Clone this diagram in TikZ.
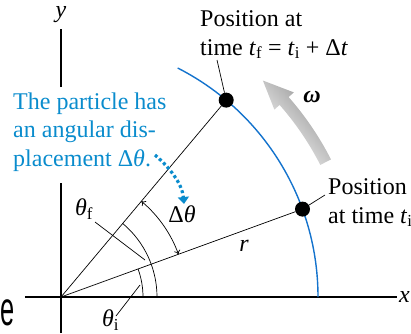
\documentclass[tikz,border=0pt]{standalone}
\usepackage{graphicx}
\usepackage{fontspec}
\setmainfont{Liberation Serif}
\newfontfamily\sanse{Liberation Sans}
\usetikzlibrary{arrows.meta}
\definecolor{txtblue}{RGB}{10,140,205}
\definecolor{arcblue}{RGB}{20,115,205}
\begin{document}
\begin{tikzpicture}[x=1pt,y=1pt,
  lbl/.style={font=\fontsize{24}{28.5}\selectfont, inner sep=0pt},
  axisline/.style={line width=1.2pt},
  thinline/.style={line width=0.7pt},
  dot/.style={circle, fill=black, minimum size=15pt, inner sep=0pt},
  dblarrow/.style={{To[length=4pt,width=6.5pt]}-{To[length=4pt,width=6.5pt]}}
]
\useasboundingbox (-61,-36) rectangle (350,297);
\coordinate (O) at (0,0);
% axes
\coordinate (xl) at (-36,0); \coordinate (xr) at (336,0);
\coordinate (yb) at (0,-36); \coordinate (yt) at (0,268);
\coordinate (yg1) at (0,114); \coordinate (yg2) at (0,210);
\draw[axisline] (xl) -- (xr);
\draw[axisline] (yb) -- (yg1);
\draw[axisline] (yg2) -- (yt);
\node[lbl, anchor=west] (xlab) at (338,0) {\textit{x}};
\node[lbl] (ylab) at (0,282) {\textit{y}};
% omega arrow
\shade[left color=black!45, right color=white, shading angle=-50]
  (27:291) arc[start angle=27,end angle=41.3,radius=291] -- (41.3:284) -- (47:296)
  -- (41.3:310) -- (41.3:303) arc[start angle=41.3,end angle=27,radius=303] -- cycle;
\node[lbl] (om) at (251,200) {\textbf{\textit{ω}}};
% circle arc
\draw[arcblue, line width=1.4pt] (0:257) arc[start angle=0,end angle=63,radius=257];
% positions
\node[dot] (pi) at (20:257) {};
\node[dot] (pf) at (50:257) {};
\draw[thinline] (O) -- (pi);
\draw[thinline] (O) -- (pf);
\node[lbl] (rl) at (183,51) {\textit{r}};
% angle arcs
\draw[thinline] (0:82) arc[start angle=0,end angle=20,radius=82];
\draw[thinline] (0:96) arc[start angle=0,end angle=50,radius=96];
\draw[thinline, dblarrow] (20:125) arc[start angle=20,end angle=50,radius=125];
% angle labels
\node[lbl, anchor=west] (thf) at (14,88) {\textit{θ}\textsubscript{f}};
\coordinate (lf1) at (34,75); \coordinate (lf2) at (84,37);
\draw[thinline] (lf1) -- (lf2);
\node[lbl, anchor=west] (thi) at (41,-23) {\textit{θ}\textsubscript{i}};
\coordinate (li1) at (55,-19); \coordinate (li2) at (79,12);
\draw[thinline] (li1) -- (li2);
\node[lbl] (dth) at (121,83) {Δ\textit{θ}};
% position texts (base = baseline of last line)
\node[lbl, anchor=base west, align=left] (tf) at (139,242)
  {Position at\\time \textit{t}\textsubscript{f} = \textit{t}\textsubscript{i} + Δ\textit{t}};
\node[lbl, anchor=base west, align=left] (ti) at (267,74)
  {Position\\at time \textit{t}\textsubscript{i}};
\coordinate (a1) at (156,237);
\draw[thinline] (pf) -- (a1);
\coordinate (a2) at (264,102);
\draw[thinline] (pi) -- (a2);
% blue annotation
\node[lbl, text=txtblue, anchor=base west, align=left] (bl) at (-48,131)
  {The particle has\\an angular dis-\\placement Δ\textit{θ}.};
\coordinate (d1) at (94,142); \coordinate (d2) at (123,93);
\draw[txtblue, line width=3.2pt, dash pattern=on 3pt off 2.6pt,
  -{Triangle[length=7pt,width=11pt]}] (d1) .. controls (108,130) and (121,114) .. (d2);
% cut-off letter
\node[inner sep=0pt, anchor=base east] (ee) at (-46,-28)
  {\sanse\fontsize{48}{48}\selectfont\scalebox{0.53}[1]{e}};
\end{tikzpicture}
\end{document}
